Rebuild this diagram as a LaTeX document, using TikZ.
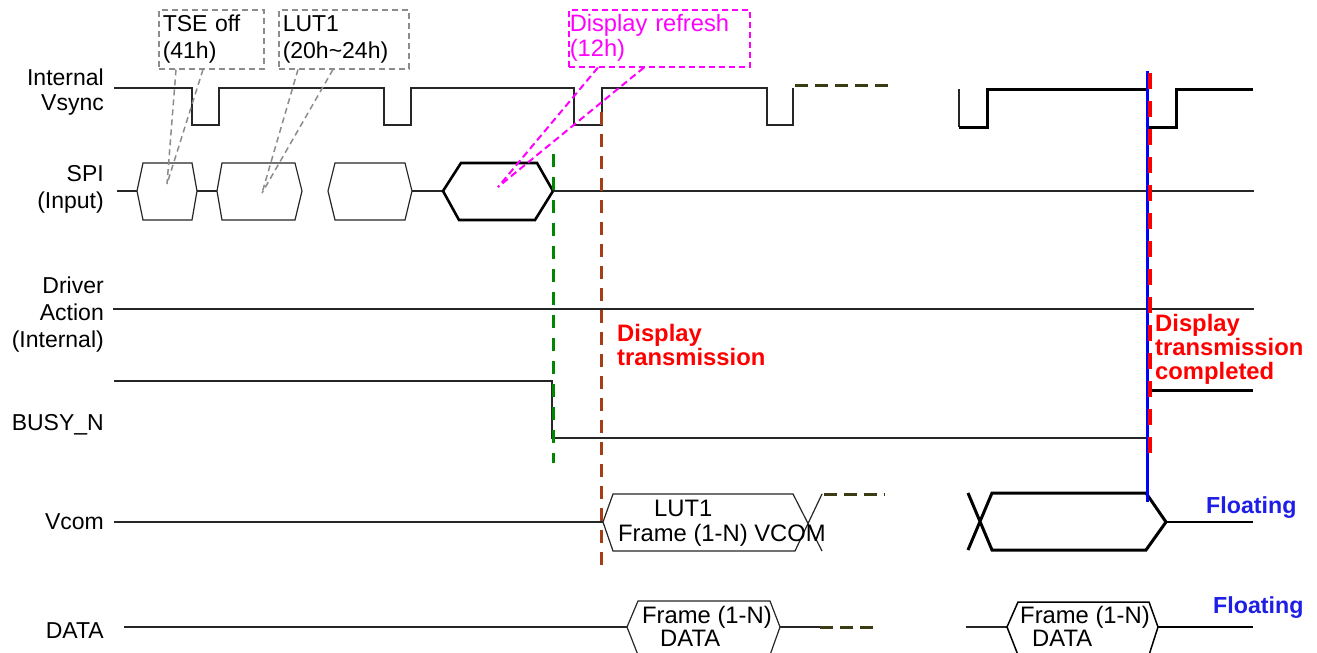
\documentclass[tikz,border=0pt]{standalone}
\usepackage{fontspec}
\setmainfont{Liberation Sans}
\usetikzlibrary{calc}
\definecolor{cgrey}{RGB}{140,140,140}
\definecolor{cmag}{RGB}{255,0,255}
\definecolor{cgreen}{RGB}{0,135,0}
\definecolor{cbrown}{RGB}{165,62,20}
\definecolor{cred}{RGB}{255,0,0}
\definecolor{cblue}{RGB}{0,0,255}
\definecolor{cfloat}{RGB}{30,30,230}
\definecolor{colive}{RGB}{60,60,20}
\begin{document}
\begin{tikzpicture}[x=1pt,y=-1pt,
  txt/.style={font=\fontsize{23}{26}\selectfont, inner sep=0pt},
  lbl/.style={txt, align=right, anchor=north east},
  sig/.style={line width=1.2pt, draw=black!85, line join=miter},
  thk/.style={line width=3pt, draw=black, line join=miter},
  gbox/.style={draw=cgrey, dash pattern=on 6pt off 4pt, line width=1.5pt, anchor=north west, txt, align=left, inner xsep=4pt},
  mbox/.style={draw=cmag, text=cmag, dash pattern=on 6pt off 4pt, line width=1.5pt, anchor=north west, txt, align=left, inner xsep=1pt},
  gdash/.style={draw=cgrey, dash pattern=on 6pt off 4pt, line width=1.5pt},
  mdash/.style={draw=cmag, dash pattern=on 7pt off 4pt, line width=2pt},
  odash/.style={draw=colive, dash pattern=on 13pt off 7pt, line width=3pt},
  redtxt/.style={font=\bfseries\fontsize{23.8}{23.5}\selectfont, text=cred, inner sep=0pt, align=left, anchor=north west},
  floattxt/.style={font=\bfseries\fontsize{23.2}{23}\selectfont, text=cfloat, inner sep=0pt, anchor=base west},
  intxt/.style={font=\fontsize{23.8}{26}\selectfont, inner sep=0pt, anchor=base west}
]
\fill[white] (0,0) rectangle (1317,653);
\useasboundingbox (0,0) rectangle (1317,653);

% ---------- labels ----------
\node[lbl, font=\fontsize{23}{25}\selectfont] (lvsync) at (104,68.5) {Internal\\Vsync};
\node[lbl, font=\fontsize{23}{27}\selectfont] (lspi) at (104,165.5) {SPI\\(Input)};
\node[lbl, font=\fontsize{23}{27}\selectfont] (ldrv) at (104,276.5) {Driver\\Action\\(Internal)};
\node[txt, anchor=base east] (lbusy) at (104,430) {BUSY\_N};
\node[txt, anchor=base east] (lvcom) at (104,529) {Vcom};
\node[txt, anchor=base east] (ldata) at (104,638) {DATA};

% ---------- Internal Vsync ----------
\draw[sig] (114,88) -- (192,88) -- (192,125) -- (219,125) -- (219,88)
  -- (384,88) -- (384,125) -- (411,125) -- (411,88)
  -- (574,88) -- (574,125) -- (602,125) -- (602,88)
  -- (767,88) -- (767,125) -- (793,125) -- (793,88);
\draw[odash] (795,85) -- (890,85);
\draw[sig] (959,89) -- (959,127);
\draw[thk] (959,127) -- (987,127) -- (987,89) -- (1147,89) -- (1147,127)
  -- (1176,127) -- (1176,89) -- (1253,89);

% ---------- SPI ----------
\draw[sig] (117,191) -- (137,191);
\draw[sig] (137,191) -- (143,163) -- (192,163) -- (197,191) -- (192,220) -- (143,220) -- cycle;
\draw[sig] (197,191) -- (217,191);
\draw[sig] (217,191) -- (222,163) -- (295,163) -- (302,191) -- (295,220) -- (222,220) -- cycle;
\draw[sig] (328,191) -- (335,163) -- (405,163) -- (412,191) -- (405,220) -- (335,220) -- cycle;
\draw[sig] (412,191) -- (443,191);
\draw[line width=2.6pt, line join=miter] (443,191) -- (461,163) -- (537,163) -- (553,191) -- (535,220) -- (459,220) -- cycle;
\draw[sig] (553,191) -- (1254,191);

% ---------- Driver Action ----------
\draw[sig] (113,309) -- (1254,309);

% ---------- BUSY_N ----------
\draw[sig] (114,381) -- (552,381) -- (552,438) -- (1148,438) -- (1148,390);
\draw[thk] (1148,390) -- (1253,390);

% ---------- Vcom ----------
\draw[sig] (114,522) -- (603,522);
\draw[sig] (822,494) -- (795,551) -- (613,551) -- (603,522) -- (613,494) -- (793,494) -- (822,551);
\node[intxt] (vlut) at (654,516) {LUT1};
\node[intxt] (vframe) at (618,541) {Frame (1-N) VCOM};
\draw[odash] (824,494) -- (885,494);
\draw[thk] (968,493) -- (992,550) -- (1146,550) -- (1166,522) -- (1146,493) -- (992,493) -- (968,550);
\draw[line width=2pt] (1166,522) -- (1253,522);

% ---------- DATA ----------
\draw[sig] (124,627) -- (627,627);
\draw[sig] (627,627) -- (638,601) -- (770,601) -- (780,627) -- (770,655) -- (638,655) -- cycle;
\draw[sig] (780,627) -- (820,627);
\draw[odash] (820,627) -- (880,627);
\node[intxt] (dframe) at (642,623) {Frame (1-N)};
\node[intxt] (ddata) at (660,646) {DATA};
\draw[sig] (966,627) -- (1007,627);
\draw[line width=1.5pt] (1007,627) -- (1018,602) -- (1149,602) -- (1158,627) -- (1149,655) -- (1018,655) -- cycle;
\draw[line width=1.5pt] (1158,627) -- (1253,627);
\node[intxt] (dframe2) at (1020,623) {Frame (1-N)};
\node[intxt] (ddata2) at (1032,646) {DATA};

% ---------- callouts ----------
\node[gbox, font=\fontsize{23}{27}\selectfont, minimum width=105pt, minimum height=59pt, text width=97pt] (tse) at (158,9) {TSE off\\(41h)};
\node[gbox, font=\fontsize{23}{27}\selectfont, minimum width=130pt, minimum height=59pt, text width=122pt] (lut) at (278,9) {LUT1\\(20h\textasciitilde24h)};
\node[mbox, font=\fontsize{23.7}{25}\selectfont, minimum width=181pt, minimum height=57pt, text width=179pt] (dref) at (568,9) {Display refresh\\(12h)};
\coordinate (ptse) at (167,184);
\coordinate (plut) at (262,193);
\coordinate (pdr) at (498,187);
\draw[gdash] ($(tse.south west)+(18,0)$) -- (ptse);
\draw[gdash] ($(tse.south west)+(45,0)$) -- (ptse);
\draw[gdash] ($(lut.south west)+(20,0)$) -- (plut);
\draw[gdash] ($(lut.south west)+(55,0)$) -- (plut);
\draw[mdash] ($(dref.south west)+(30,0)$) -- (pdr);
\draw[mdash] ($(dref.south west)+(76,0)$) -- (pdr);

% ---------- markers ----------
\draw[draw=cgreen, line width=3pt, dash pattern=on 13pt off 10pt] (553,154) -- (553,463);
\draw[draw=cbrown, line width=3pt, dash pattern=on 13pt off 9pt] (601,112) -- (601,568);
\draw[draw=cblue, line width=3pt] (1147,71) -- (1147,502);
\draw[draw=cred, line width=4pt, dash pattern=on 16pt off 12pt] (1149.5,73) -- (1149.5,453);

% ---------- annotations ----------
\node[redtxt] (dtx) at (617,324.5) {Display\\transmission};
\node[redtxt, font=\bfseries\fontsize{23.8}{24}\selectfont] (dtxc) at (1155,314.5) {Display\\transmission\\completed};
\node[floattxt] (fl1) at (1206,513) {Floating};
\node[floattxt] (fl2) at (1213,613) {Floating};
\end{tikzpicture}
\end{document}
